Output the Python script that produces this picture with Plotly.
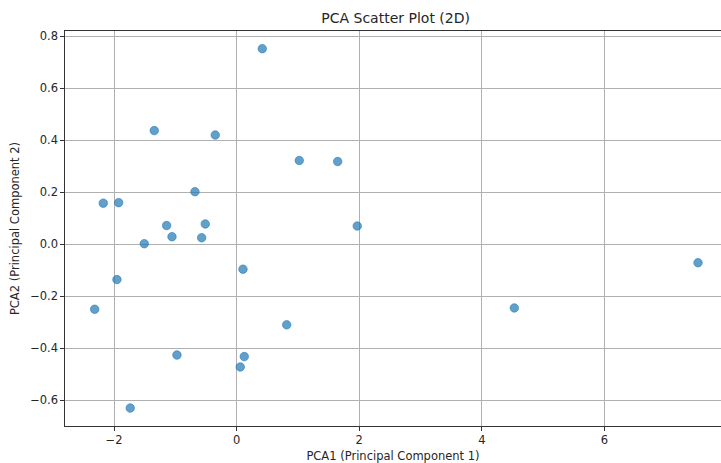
import plotly.graph_objects as go

pca1 = [0.418, -1.344, -0.349, 1.021, 1.648, -0.680, -2.176, -1.925, -1.142, -0.512,
        -1.055, -0.571, -1.507, 1.967, 0.103, -1.953, -2.316, 4.529, 7.525, 0.816,
        -0.974, 0.124, 0.059, -1.736]
pca2 = [0.752, 0.437, 0.420, 0.322, 0.318, 0.202, 0.158, 0.160, 0.072, 0.078,
        0.029, 0.025, 0.002, 0.070, -0.096, -0.136, -0.250, -0.245, -0.071, -0.310,
        -0.426, -0.432, -0.472, -0.630]

x_ticks = [-2, 0, 2, 4, 6]
y_ticks = [-0.6, -0.4, -0.2, 0.0, 0.2, 0.4, 0.6, 0.8]

fig = go.Figure()
fig.add_trace(go.Scatter(
    x=pca1, y=pca2, mode="markers",
    marker=dict(size=8.5, color="rgba(31,119,180,0.7)",
                line=dict(width=0.8, color="rgba(31,119,180,0.7)")),
    showlegend=False, hoverinfo="x+y",
))

font = "DejaVu Sans, Arial, sans-serif"
fig.update_layout(
    width=721, height=463,
    margin=dict(l=65, r=0, t=31, b=37),
    paper_bgcolor="white", plot_bgcolor="white",
    font=dict(family=font, size=11.5, color="#262626"),
    title=dict(text="PCA Scatter Plot (2D)", x=0.504, xref="paper", xanchor="center",
               y=1 - 18 / 463, yref="container", yanchor="middle",
               font=dict(family=font, size=14, color="#262626")),
    xaxis=dict(
        range=[-2.80, 7.90], tickvals=x_ticks, ticktext=[("−" + str(-v)) if v < 0 else str(v) for v in x_ticks],
        showgrid=True, gridcolor="#b0b0b0", gridwidth=0.8,
        zeroline=False, showline=True, linecolor="#333333", linewidth=1.2,
        mirror=True, ticks="outside", ticklen=3.5, tickcolor="#333333",
        title=dict(text="PCA1 (Principal Component 1)", standoff=6,
                   font=dict(family=font, size=11.5)),
    ),
    yaxis=dict(
        range=[-0.699, 0.820], tickvals=y_ticks, tickformat=".1f",
        showgrid=True, gridcolor="#b0b0b0", gridwidth=0.8,
        zeroline=False, showline=True, linecolor="#333333", linewidth=1.2,
        mirror=False, ticks="outside", ticklen=3.5, tickcolor="#333333",
        title=dict(text="PCA2 (Principal Component 2)", standoff=8,
                   font=dict(family=font, size=11.5)),
    ),
)

fig.write_html("out.html")
